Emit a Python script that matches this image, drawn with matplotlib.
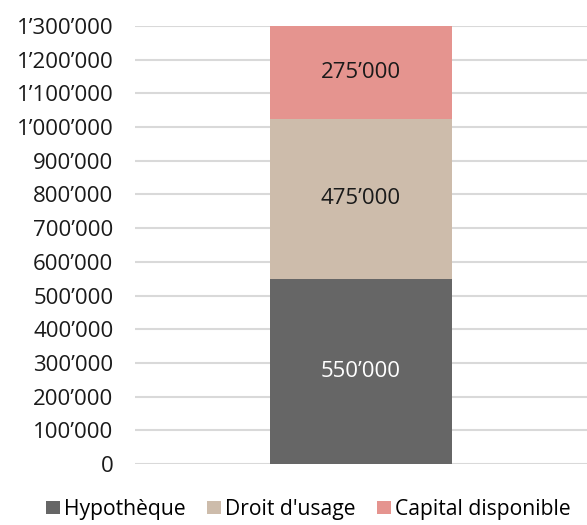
import matplotlib
matplotlib.use("Agg")
import matplotlib.pyplot as plt
from matplotlib.ticker import FuncFormatter
from matplotlib.patches import Patch

plt.rcParams['font.family'] = ['Open Sans', 'DejaVu Sans']

series = ["Hypothèque", "Droit d'usage", "Capital disponible"]
values = [550000, 475000, 275000]
colors = ["#666666", "#cdbcab", "#e5948f"]
label_colors = ["white", "#1a1a1a", "#1a1a1a"]
y_max = 1300000
y_step = 100000


def swiss(v, pos=None):
    return f"{int(round(v)):,}".replace(",", "\u2019")


fig = plt.figure(figsize=(5.87, 5.25), dpi=100)
ax = fig.add_axes([0.23, 0.1162, 0.77, 0.8343])

bottom = 0
for name, val, col, lc in zip(series, values, colors, label_colors):
    ax.bar(0.5, val, width=0.403, bottom=bottom, color=col, label=name, zorder=3)
    ax.text(0.5, bottom + val / 2, swiss(val), ha="center", va="center",
            fontsize=16, color=lc, zorder=4)
    bottom += val

ax.set_xlim(0, 1)
ax.set_ylim(0, y_max)
ax.set_yticks(range(0, y_max + 1, y_step))
ax.yaxis.set_major_formatter(FuncFormatter(swiss))
ax.set_xticks([])
ax.tick_params(axis="y", length=0, labelsize=16, pad=15.5, labelcolor="#1a1a1a")
ax.grid(axis="y", color="#d9d9d9", linewidth=1.5, zorder=0)
for s in ax.spines.values():
    s.set_visible(False)

handles = [Patch(facecolor=c, label=n) for n, c in zip(series, colors)]
fig.legend(handles=handles, loc="lower center", bbox_to_anchor=(0.525, -0.027), ncol=3,
           frameon=False, fontsize=15.2, handlelength=0.67, handleheight=0.6,
           handletextpad=0.2, columnspacing=1.0)

fig.savefig("out.png", dpi=100)
